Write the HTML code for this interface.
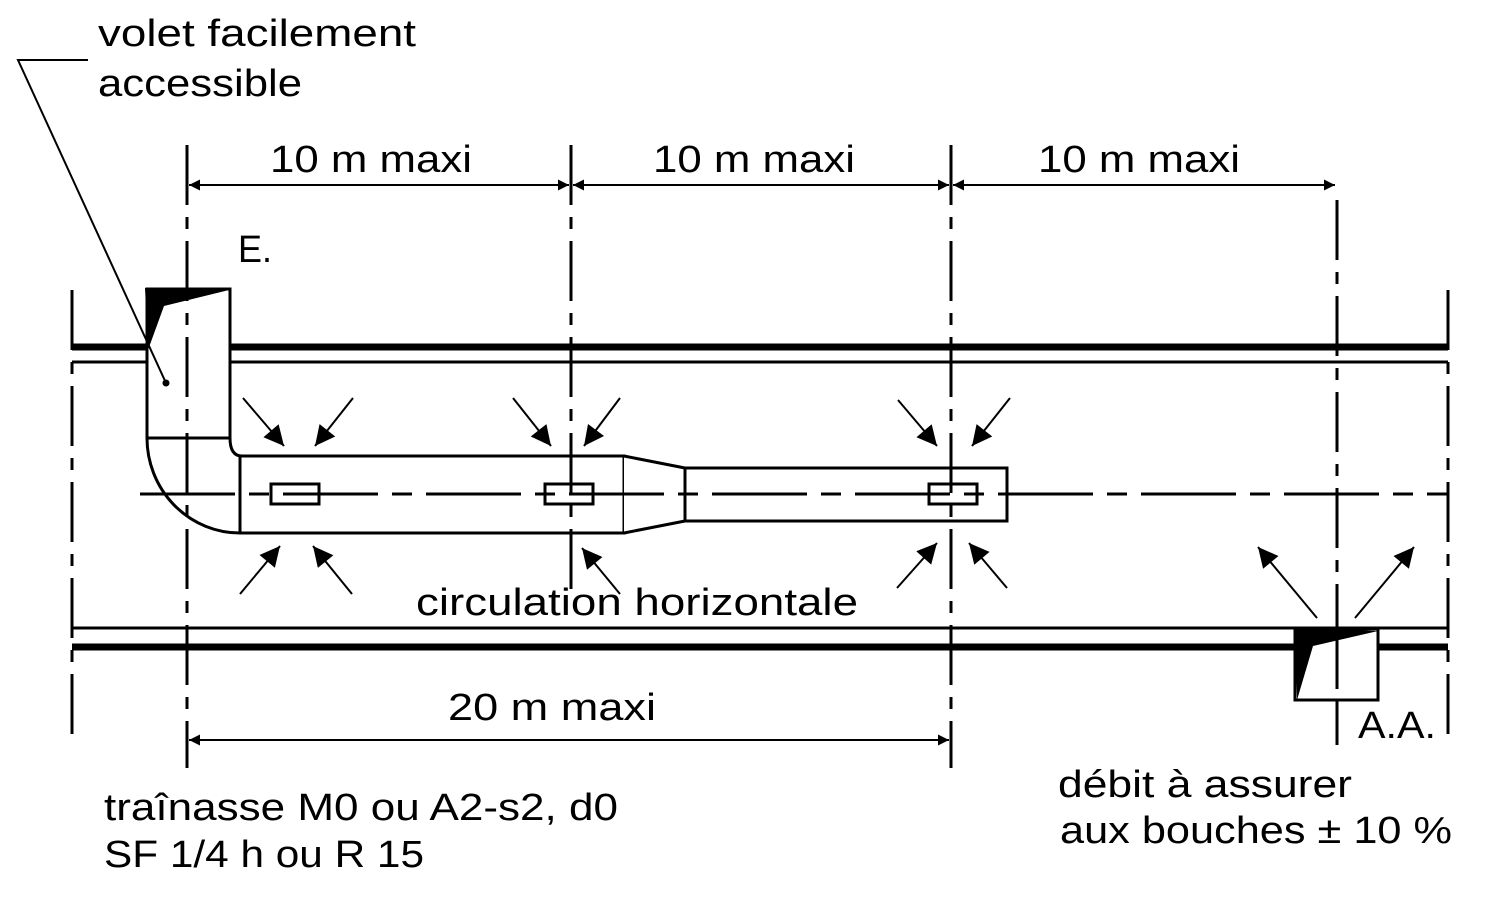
<!DOCTYPE html>
<html><head><meta charset="utf-8"><style>
html,body{margin:0;padding:0;background:#fff;}
svg{display:block;}
text{font-family:"Liberation Sans",sans-serif;font-size:38px;fill:#000;}
</style></head><body>
<svg width="1488" height="900" viewBox="0 0 1488 900" xmlns="http://www.w3.org/2000/svg">
<defs>
<marker id="a" viewBox="0 0 10 10" refX="10" refY="5" markerWidth="26" markerHeight="20" markerUnits="userSpaceOnUse" orient="auto"><path d="M0,0 L10,5 L0,10 z" fill="#000"/></marker>
<marker id="d" viewBox="0 0 10 10" refX="10" refY="5" markerWidth="26" markerHeight="11" markerUnits="userSpaceOnUse" orient="auto-start-reverse"><path d="M0,0 L10,5 L0,10 z" fill="#000"/></marker>
</defs>
<g stroke="#000" fill="none">
<line x1="72" y1="347" x2="1448" y2="347" stroke-width="7"/>
<line x1="72" y1="362" x2="1448" y2="362" stroke-width="3"/>
<line x1="72" y1="628" x2="1448" y2="628" stroke-width="3"/>
<line x1="72" y1="647" x2="1448" y2="647" stroke-width="7"/>
<g stroke-width="3" stroke-dasharray="60 12 12 12">
<line x1="72" y1="290" x2="72" y2="742"/>
<line x1="1448" y1="290" x2="1448" y2="742"/>
<line x1="187" y1="145" x2="187" y2="768"/>
<line x1="1337" y1="200" x2="1337" y2="745"/>
</g>
<g stroke-width="2">
<line x1="189" y1="185" x2="569" y2="185" marker-start="url(#d)" marker-end="url(#d)"/>
<line x1="573" y1="185" x2="949" y2="185" marker-start="url(#d)" marker-end="url(#d)"/>
<line x1="953" y1="185" x2="1335" y2="185" marker-start="url(#d)" marker-end="url(#d)"/>
<line x1="189" y1="740" x2="949" y2="740" marker-start="url(#d)" marker-end="url(#d)"/>
</g>
<g stroke-width="3" fill="#fff">
<path d="M147,289 H230 V438 Q230,456 242,456 H624 V533 H240 A93,95 0 0 1 147,438 Z"/>
<line x1="147" y1="438" x2="230" y2="438"/>
<line x1="240" y1="456" x2="240" y2="533"/>
<path d="M624,456 L685,468 L685,521 L624,533"/>
<rect x="685" y="468" width="322" height="53"/>
</g>
<g stroke-width="3" stroke-dasharray="60 12 12 12">
<line x1="187" y1="145" x2="187" y2="768"/>
<line x1="571" y1="145" x2="571" y2="600"/>
<line x1="951" y1="145" x2="951" y2="768"/>
<line x1="140" y1="494" x2="1448" y2="494" stroke-dasharray="95 14 20 14"/>
</g>
<g stroke-width="3">
<rect x="271" y="484" width="48" height="20"/>
<rect x="545" y="484" width="48" height="20"/>
<rect x="929" y="484" width="48" height="20"/>
</g>
<polygon points="145,288 229,290 164,306 148,350" fill="#000" stroke="none"/>
<polyline points="88,60 18,60 166,383" stroke-width="2"/>
<circle cx="166" cy="383" r="3" fill="#000"/>
<g stroke-width="2">
<line x1="243" y1="398" x2="284" y2="446" marker-end="url(#a)"/>
<line x1="353" y1="398" x2="315" y2="446" marker-end="url(#a)"/>
<line x1="240" y1="594" x2="280" y2="546" marker-end="url(#a)"/>
<line x1="352" y1="594" x2="313" y2="546" marker-end="url(#a)"/>
<line x1="513" y1="398" x2="551" y2="446" marker-end="url(#a)"/>
<line x1="620" y1="398" x2="584" y2="446" marker-end="url(#a)"/>
<line x1="620" y1="594" x2="582" y2="548" marker-end="url(#a)"/>
<line x1="898" y1="400" x2="937" y2="446" marker-end="url(#a)"/>
<line x1="1010" y1="398" x2="972" y2="446" marker-end="url(#a)"/>
<line x1="897" y1="588" x2="937" y2="543" marker-end="url(#a)"/>
<line x1="1007" y1="588" x2="969" y2="543" marker-end="url(#a)"/>
<line x1="1317" y1="618" x2="1258" y2="547" marker-end="url(#a)"/>
<line x1="1355" y1="618" x2="1414" y2="547" marker-end="url(#a)"/>
</g>
<rect x="1295" y="629" width="83" height="71" stroke-width="3" fill="#fff"/>
<line x1="1337" y1="629" x2="1337" y2="745" stroke-width="3" stroke-dasharray="60 12 12 12"/>
<polygon points="1295,628 1378,631 1313,646 1297,700" fill="#000" stroke="none"/>
</g>
<g>
<text x="98" y="46" textLength="318" lengthAdjust="spacingAndGlyphs">volet facilement</text>
<text x="98" y="96" textLength="204" lengthAdjust="spacingAndGlyphs">accessible</text>
<text x="270" y="172" textLength="202" lengthAdjust="spacingAndGlyphs">10 m maxi</text>
<text x="653" y="172" textLength="202" lengthAdjust="spacingAndGlyphs">10 m maxi</text>
<text x="1038" y="172" textLength="202" lengthAdjust="spacingAndGlyphs">10 m maxi</text>
<text x="238" y="262" textLength="34" lengthAdjust="spacingAndGlyphs">E.</text>
<text x="416" y="615" textLength="442" lengthAdjust="spacingAndGlyphs">circulation horizontale</text>
<text x="448" y="720" textLength="208" lengthAdjust="spacingAndGlyphs">20 m maxi</text>
<text x="1358" y="738" textLength="78" lengthAdjust="spacingAndGlyphs">A.A.</text>
<text x="104" y="820" textLength="514" lengthAdjust="spacingAndGlyphs">traînasse M0 ou A2-s2, d0</text>
<text x="104" y="867" textLength="320" lengthAdjust="spacingAndGlyphs">SF 1/4 h ou R 15</text>
<text x="1058" y="797" textLength="294" lengthAdjust="spacingAndGlyphs">débit à assurer</text>
<text x="1060" y="843" textLength="392" lengthAdjust="spacingAndGlyphs">aux bouches ± 10 %</text>
</g>
</svg>
</body></html>
